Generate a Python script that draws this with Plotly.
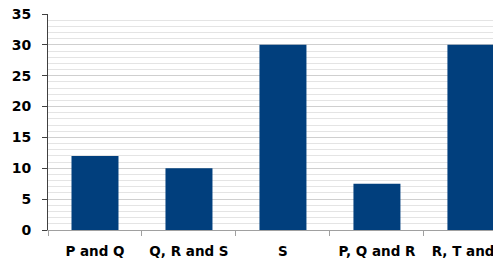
import plotly.graph_objects as go

categories = ["P and Q", "Q, R and S", "S", "P, Q and R", "R, T and U"]
values = [12, 10, 30, 7.5, 30]
y_ticks = [0, 5, 10, 15, 20, 25, 30, 35]

fig = go.Figure(go.Bar(
    x=categories, y=values, marker_color="#013f7d", width=0.5,
    marker_line_width=0,
))

fig.update_layout(
    width=493, height=253,
    margin=dict(l=40, r=0, t=6, b=31),
    plot_bgcolor="white", paper_bgcolor="white",
    showlegend=False,
    font=dict(family="DejaVu Sans", color="#000000"),
)
fig.update_xaxes(
    range=[-0.5, 4.32], automargin=False,
    tickson="boundaries", ticks="outside", ticklen=5, tickcolor="#a0a0a0",
    showline=True, linecolor="#a0a0a0", linewidth=1,
    showgrid=False,
    ticklabelstandoff=9, ticklabeloverflow="allow",
    tickfont=dict(family="DejaVu Sans", size=13.5, weight="bold"),
)
fig.update_yaxes(
    range=[0, 35], tickvals=y_ticks, automargin=False,
    ticks="outside", ticklen=5, tickcolor="#404040",
    showline=True, linecolor="#404040", linewidth=1,
    showgrid=True, gridcolor="#cfcfcf", gridwidth=1,
    minor=dict(dtick=1, showgrid=True, gridcolor="#e4e4e4", gridwidth=1),
    zeroline=False,
    ticklabelstandoff=8, ticklabeloverflow="allow",
    tickfont=dict(family="DejaVu Sans", size=14, weight="bold"),
)

fig.write_html("out.html")
